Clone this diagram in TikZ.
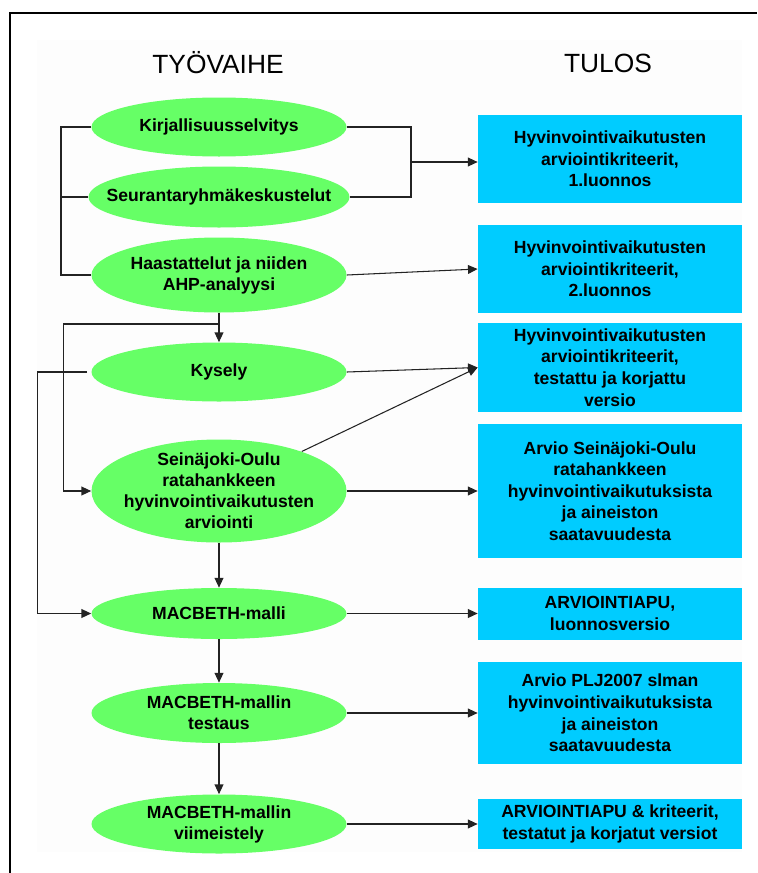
\documentclass[tikz,border=0pt]{standalone}
\usepackage{fontspec}
\setmainfont{Liberation Sans}
\usetikzlibrary{arrows.meta, shapes.geometric, calc, positioning}
\definecolor{phaseGreen}{RGB}{102,255,102}
\definecolor{resultCyan}{RGB}{0,204,255}
\definecolor{lineGray}{RGB}{35,35,35}
\definecolor{paperGray}{RGB}{253,253,253}

\begin{document}
\begin{tikzpicture}[
    % Green work-phase ellipse
    phaseE/.style={
        ellipse, fill=phaseGreen,
        minimum width=5.1cm,
        inner xsep=-20pt, inner ysep=-14pt,
        align=center,
        font=\fontsize{10}{12}\selectfont\bfseries
    },
    % Cyan result box
    resultB/.style={
        rectangle, fill=resultCyan,
        minimum width=5.28cm, inner sep=0pt,
        align=center,
        font=\fontsize{10}{12.3}\selectfont\bfseries
    },
    % Column headers
    colHead/.style={font=\fontsize{15}{18}\selectfont},
    link/.style={draw=lineGray, line width=0.6pt},
    arr/.style={link, -{Triangle[length=5.5pt, width=5pt]}}
]
\useasboundingbox (0,0) rectangle (15.14,-17.46);
% Page background and frame
\fill[paperGray] (0.74,-0.8) rectangle (14.84,-17.04);
\draw[line width=1.2pt] (0.2,-17.46) -- (0.2,-0.26) -- (15.14,-0.26);
% Column headers
\node[colHead] (hdPhase)  at (4.36,-1.26)  {TYÖVAIHE};
\node[colHead] (hdResult) at (12.16,-1.26) {TULOS};
% ── Work phases (left, x = 4.38) ─────────────────────────────
\node[phaseE, minimum height=1.18cm] (kirj) at (4.38,-2.54)
    {Kirjallisuusselvitys};
\node[phaseE, minimum width=5.22cm, minimum height=1.22cm] (seur) at (4.38,-3.94)
    {Seurantaryhmäkeskustelut};
\node[phaseE, minimum height=1.5cm] (haast) at (4.38,-5.5)
    {Haastattelut ja niiden\\AHP-analyysi};
\node[phaseE, minimum height=1.18cm] (kys) at (4.38,-7.44) {Kysely};
\node[phaseE, minimum height=2.06cm] (sein) at (4.38,-9.82)
    {Seinäjoki-Oulu\\ratahankkeen\\hyvinvointivaikutusten\\arviointi};
\node[phaseE, minimum height=1.02cm] (malli) at (4.38,-12.27) {MACBETH-malli};
\node[phaseE, minimum height=1.2cm] (testaus) at (4.38,-14.26)
    {MACBETH-mallin\\testaus};
\node[phaseE, minimum height=1.18cm] (viim) at (4.38,-16.48)
    {MACBETH-mallin\\viimeistely};
% ── Results (right, x = 12.2) ────────────────────────────────
\node[resultB, minimum height=1.76cm] (box1) at (12.2,-3.18)
    {Hyvinvointivaikutusten\\arviointikriteerit,\\1.luonnos};
\node[resultB, minimum height=1.76cm] (box2) at (12.2,-5.38)
    {Hyvinvointivaikutusten\\arviointikriteerit,\\2.luonnos};
\node[resultB, minimum height=1.78cm] (box3) at (12.2,-7.35)
    {Hyvinvointivaikutusten\\arviointikriteerit,\\testattu ja korjattu\\versio};
\node[resultB, minimum height=2.68cm] (box4) at (12.2,-9.82)
    {Arvio Seinäjoki-Oulu\\ratahankkeen\\hyvinvointivaikutuksista\\ja aineiston\\saatavuudesta};
\node[resultB, minimum height=1.04cm] (box5) at (12.2,-12.27)
    {ARVIOINTIAPU,\\luonnosversio};
\node[resultB, minimum height=2.04cm] (box6) at (12.2,-14.26)
    {Arvio PLJ2007 slman\\hyvinvointivaikutuksista\\ja aineiston\\saatavuudesta};
\node[resultB, minimum height=1.0cm] (box7) at (12.2,-16.48)
    {ARVIOINTIAPU \& kriteerit,\\testatut ja korjatut versiot};
% ── Brackets round the first three phases ────────────────────
\coordinate (brL) at (1.22,0);
\draw[link] (kirj.west) -- (kirj.west -| brL) |- (haast.west);
\draw[link] (seur.west) -- (seur.west -| brL);
\coordinate (brR) at (8.22,0);
\draw[link] (kirj.east) -- (kirj.east -| brR) |- (seur.east);
\coordinate (merge) at ($(kirj.east -| brR)!0.5!(seur.east -| brR)$);
\draw[arr] (merge) -- (merge -| box1.west);
% ── Arrows: phases to results ────────────────────────────────
\draw[arr] (haast.east) -- (box2.west);
\draw[arr] (kys.east) -- (box3.west);
\draw[arr] (sein) -- (box3.west);
\draw[arr] (sein) -- (box4);
\draw[arr] (malli) -- (box5);
\draw[arr] (testaus) -- (box6);
\draw[arr] (viim) -- (box7);
% ── Arrows: phase column ─────────────────────────────────────
\draw[arr] (haast) -- (kys);
\draw[arr] (sein) -- (malli);
\draw[arr] (malli) -- (testaus);
\draw[arr] (testaus) -- (viim);
% feedback loops on the left
\coordinate (split) at ($(haast.south)!0.38!(kys.north)$);
\draw[arr] (split) -| ([xshift=-0.56cm]sein.west) -- (sein.west);
\draw[arr] ([xshift=-0.08cm]kys.west) -| ([xshift=-1.08cm]malli.west) -- (malli.west);
\end{tikzpicture}
\end{document}
